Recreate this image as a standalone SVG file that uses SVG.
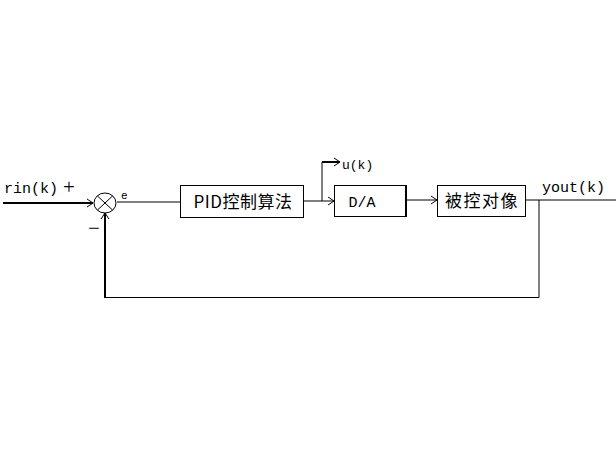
<svg xmlns="http://www.w3.org/2000/svg" width="616" height="464" viewBox="0 0 616 464">
<style>
.ln{stroke:#000;stroke-width:1;fill:none}
.th{stroke:#000;stroke-width:2;fill:none}
.bx{stroke:#000;stroke-width:1;fill:#fff}
.t{font-family:"Liberation Mono","Noto Sans CJK SC",monospace;fill:#000}
.s{font-family:"Liberation Serif",serif;fill:#000}
.c{font-family:"Noto Sans CJK SC","Liberation Sans",sans-serif;fill:#000}
</style>
<defs>
<marker id="ar" markerWidth="10" markerHeight="10" refX="8" refY="5" orient="auto" markerUnits="userSpaceOnUse">
<path d="M2,1 L8,5 L2,9" fill="none" stroke="#000" stroke-width="1"/>
</marker>
</defs>
<rect width="616" height="464" fill="#fff"/>
<g id="connectors">
<line class="th" x1="3" y1="203" x2="93" y2="203" marker-end="url(#ar)"/>
<line class="ln" x1="117" y1="202" x2="180" y2="202"/>
<line class="ln" x1="303" y1="201" x2="334" y2="201" marker-end="url(#ar)"/>
<polyline class="ln" points="322,201 322,162"/>
<line class="th" x1="322" y1="162" x2="340" y2="162" marker-end="url(#ar)"/>
<line class="ln" x1="407" y1="200" x2="437" y2="200" marker-end="url(#ar)"/>
<line class="ln" x1="526" y1="200" x2="616" y2="200"/>
<polyline class="ln" points="539,200 539,297.5 105,297.5"/>
<line class="th" x1="105" y1="298" x2="105" y2="213" marker-end="url(#ar)"/>
</g>
<g id="sum">
<ellipse class="ln" cx="105" cy="203" rx="11" ry="10"/>
<line class="ln" x1="97.5" y1="196" x2="112.5" y2="210"/>
<line class="ln" x1="112.5" y1="196" x2="97.5" y2="210"/>
<text class="t" x="4" y="193" font-size="15">rin(k)</text>
<text class="s" x="63" y="194" font-size="21">+</text>
<text class="s" x="88" y="235" font-size="21">−</text>
<text class="t" x="121" y="199" font-size="11">e</text>
</g>
<g id="pid">
<rect class="bx" x="180.5" y="185.5" width="123" height="32"/>
<text class="c" x="243" y="208" font-size="17" text-anchor="middle" letter-spacing="0.5">PID控制算法</text>
</g>
<g id="uk">
<text class="t" x="342" y="169" font-size="13">u(k)</text>
</g>
<g id="da">
<rect class="bx" x="334.5" y="185.5" width="72" height="31"/>
<line class="th" x1="406" y1="185" x2="406" y2="217"/>
<text class="t" x="362" y="207" font-size="15" text-anchor="middle">D/A</text>
</g>
<g id="plant">
<rect class="bx" x="437.5" y="185.5" width="88" height="31"/>
<text class="c" x="482" y="207" font-size="17" text-anchor="middle" letter-spacing="1.5">被控对像</text>
</g>
<g id="out">
<text class="t" x="542" y="192" font-size="15">yout(k)</text>
</g>
</svg>
